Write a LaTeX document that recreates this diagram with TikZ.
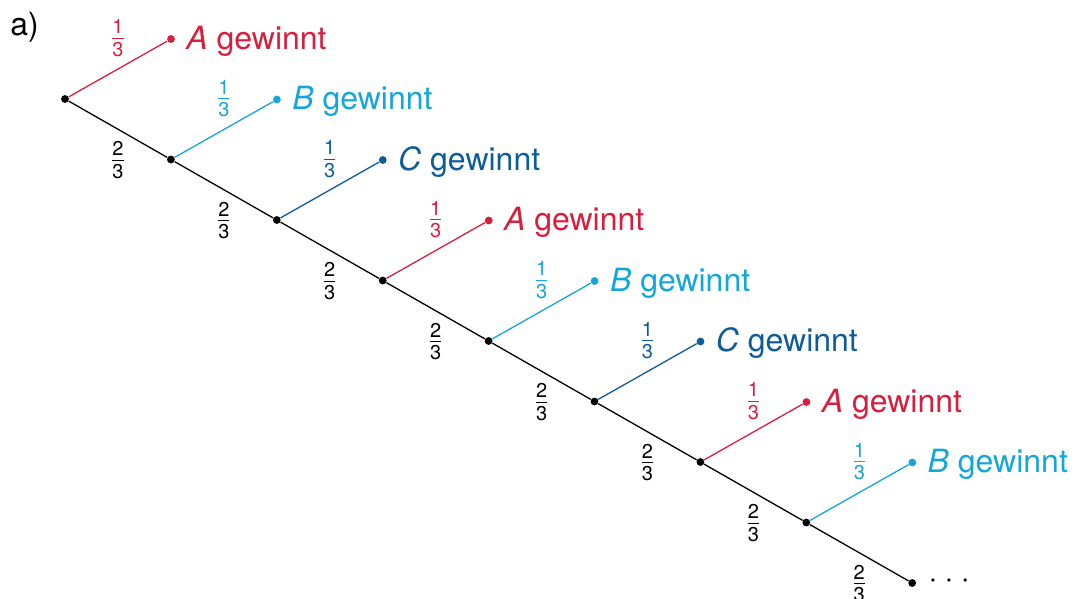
\documentclass[tikz,border=0pt]{standalone}
\usepackage{fontspec}
\setmainfont{TeX Gyre Heros}
\usetikzlibrary{calc}
\definecolor{cA}{HTML}{D81E3C}
\definecolor{cB}{HTML}{14A6D8}
\definecolor{cC}{HTML}{0D5C9A}
\newcommand{\fr}[2]{$\textstyle\frac{\mbox{\rule[-1.6pt]{0pt}{1pt}#1}}{\mbox{\rule{0pt}{8.4pt}#2}}$}
\begin{document}
\begin{tikzpicture}[x=0.5pt,y=-0.5pt,
  lin/.style={line width=0.65pt},
  knot/.style={circle,fill=black,inner sep=0pt,minimum size=3.9pt},
  leafdot/.style={circle,fill=#1,inner sep=0pt,minimum size=3.9pt},
  leaftext/.style={anchor=mid west,text=#1,font=\fontsize{16}{19}\selectfont,inner sep=0pt},
  prob/.style={text=#1,font=\fontsize{10}{12}\selectfont,inner sep=0pt}]
\useasboundingbox (0,0) rectangle (1075,599);
\node[anchor=north west,font=\fontsize{16}{19}\selectfont,inner sep=0pt] (lab) at (10,12) {a)};
\foreach \i in {0,...,8}{
  \node[knot] (n\i) at ({65+105.9*\i},{99+60.5*\i}) {};
}
\foreach \i/\c/\L in {0/cA/A,1/cB/B,2/cC/C,3/cA/A,4/cB/B,5/cC/C,6/cA/A,7/cB/B}{
  \node[leafdot=\c] (l\i) at ($(n\i)+(106,-60)$) {};
  \draw[lin,\c] (n\i) -- (l\i);
  \node[leaftext=\c] (t\i) at ($(l\i)+(15,5)$) {\textit{\L} gewinnt};
  \node[prob=\c] (p\i) at ($(n\i)!0.5!(l\i)+(0,-31)$) {\fr{1}{3}};
}
\foreach \i [evaluate=\i as \j using int(\i+1)] in {0,...,7}{
  \draw[lin] (n\i) -- (n\j);
  \node[prob=black] (q\i) at ($(n\i)!0.5!(n\j)+(0,31)$) {\fr{2}{3}};
}
\node[anchor=mid west,font=\fontsize{16}{19}\selectfont,inner sep=0pt] (dots) at ($(n8)+(16,0)$) {·\hspace{3.6pt}·\hspace{3.6pt}·};
\end{tikzpicture}
\end{document}
